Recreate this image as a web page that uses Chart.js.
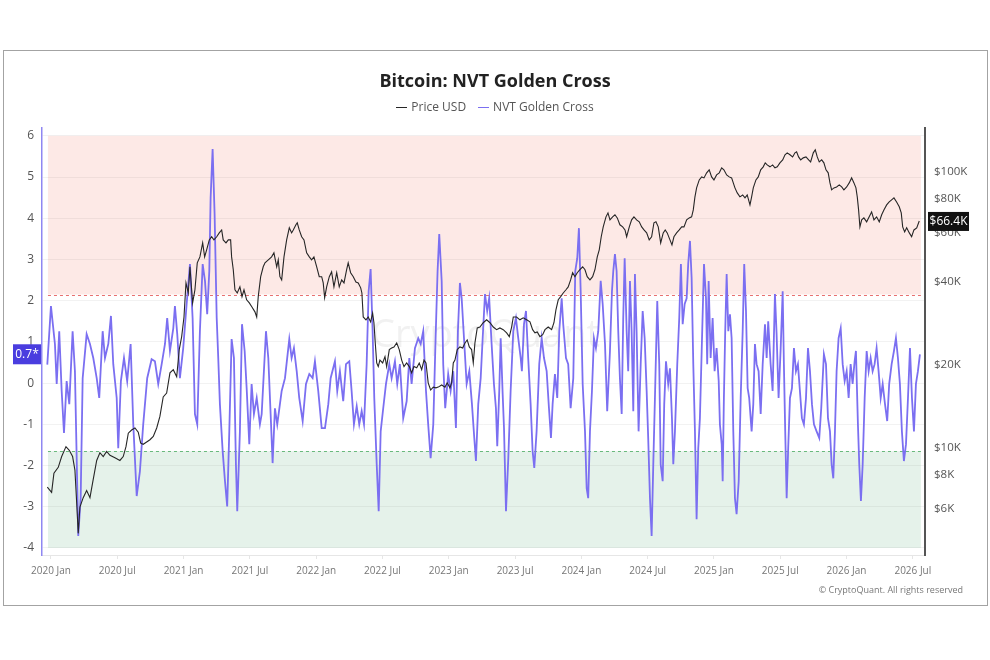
<!DOCTYPE html>
<html>
<head>
<meta charset="utf-8">
<title>Bitcoin: NVT Golden Cross</title>
<script src="https://cdn.jsdelivr.net/npm/chart.js@4.4.1/dist/chart.umd.min.js"></script>
<style>
	html, body { margin: 0; padding: 0; background: #fff; }
	#wrap { position: relative; width: 990px; height: 660px; font-family: 'Open Sans', sans-serif; }
	#frame { position: absolute; left: 3px; top: 50px; width: 983px; height: 554px; border: 1px solid #a3a3a3; }
	#nvtChart { position: absolute; left: 0; top: 0; }
	#title { position: absolute; left: 0; top: 69px; width: 990px; text-align: center; font-size: 18px; line-height: 22px; font-weight: 700; color: #222; }
	#legend { position: absolute; left: 0; top: 99px; width: 990px; text-align: center; font-size: 12px; line-height: 16px; color: #555; }
	#legend .item { display: inline-block; margin: 0 6px; }
	#legend .dash { display: inline-block; width: 11px; height: 0; border-top: 1.5px solid; vertical-align: middle; margin-right: 4px; }
	#credit { position: absolute; right: 27px; top: 583px; font-size: 9px; color: #777; }
</style>
</head>
<body>
<div id="wrap">
	<div id="frame"></div>
	<canvas id="nvtChart" width="990" height="660"></canvas>
	<div id="title">Bitcoin: NVT Golden Cross</div>
	<div id="legend"></div>
	<div id="credit">© CryptoQuant. All rights reserved</div>
</div>
<script>
// x positions are months counted from 2020 Jan
const tickMonths = [0, 6, 12, 18, 24, 30, 36, 42, 48, 54, 60, 66, 72, 78];
const tickLabels = ['2020 Jan', '2020 Jul', '2021 Jan', '2021 Jul', '2022 Jan', '2022 Jul', '2023 Jan', '2023 Jul', '2024 Jan', '2024 Jul', '2025 Jan', '2025 Jul', '2026 Jan', '2026 Jul'];
const nvtTicks = [-4, -3, -2, -1, 0, 1, 2, 3, 4, 5, 6];
const priceTicks = [6, 8, 10, 20, 40, 60, 80, 100]; // $K

// shaded bands on the NVT axis
const redZone = [2.15, 6];
const greenZone = [-4, -1.65];
const zoneMonths = [-0.27, 78.73];

const nvtMonths = [
	-0.33, 0, 0.36, 0.52, 0.75, 0.97, 1.18, 1.42, 1.66, 1.96,
	2.17, 2.47, 2.69, 2.87, 3.23, 3.53, 3.83, 4.14, 4.37, 4.68,
	4.89, 5.19, 5.43, 5.64, 5.95, 6.09, 6.33, 6.61, 6.9, 7.21,
	7.45, 7.76, 8.05, 8.35, 8.71, 9.11, 9.41, 9.71, 10.02, 10.32,
	10.52, 10.77, 11.07, 11.22, 11.43, 11.67, 11.97, 12.28, 12.58, 12.82,
	13.03, 13.24, 13.48, 13.73, 13.94, 14.14, 14.33, 14.45, 14.63, 14.81,
	15.0, 15.14, 15.29, 15.54, 15.75, 15.95, 16.14, 16.35, 16.56, 16.74,
	16.86, 17.1, 17.29, 17.53, 17.71, 17.95, 18.16, 18.37, 18.62, 18.91,
	19.07, 19.46, 19.67, 19.88, 20.06, 20.27, 20.48, 20.88, 21.18, 21.57,
	21.78, 21.99, 22.24, 22.47, 22.78, 23.08, 23.38, 23.68, 23.89, 24.19,
	24.5, 24.8, 25.1, 25.31, 25.7, 25.91, 26.15, 26.45, 26.7, 27.0,
	27.21, 27.42, 27.67, 27.9, 28.12, 28.33, 28.57, 28.75, 28.93, 29.11,
	29.26, 29.48, 29.66, 29.84, 30.07, 30.32, 30.62, 30.83, 31.13, 31.34,
	31.58, 31.88, 32.19, 32.43, 32.64, 32.94, 33.24, 33.46, 33.69, 33.94,
	34.14, 34.36, 34.6, 34.81, 34.99, 35.14, 35.36, 35.5, 35.68, 35.95,
	36.17, 36.41, 36.65, 36.83, 37.01, 37.17, 37.38, 37.62, 37.86, 38.1,
	38.31, 38.46, 38.67, 38.89, 39.07, 39.28, 39.48, 39.66, 39.88, 40.09,
	40.27, 40.39, 40.57, 40.7, 40.88, 41.0, 41.18, 41.39, 41.6, 41.84,
	42.08, 42.29, 42.51, 42.62, 42.81, 42.99, 43.19, 43.41, 43.59, 43.74,
	43.95, 44.19, 44.41, 44.62, 44.86, 45.07, 45.25, 45.4, 45.61, 45.82,
	46.0, 46.22, 46.36, 46.61, 46.81, 47.03, 47.27, 47.45, 47.63, 47.78,
	47.94, 48.12, 48.33, 48.48, 48.62, 48.78, 48.96, 49.14, 49.32, 49.53,
	49.75, 49.93, 50.14, 50.34, 50.59, 50.77, 50.89, 51.04, 51.19, 51.34,
	51.49, 51.65, 51.79, 51.92, 52.1, 52.24, 52.4, 52.55, 52.7, 52.85,
	53.0, 53.18, 53.37, 53.55, 53.73, 53.91, 54.05, 54.21, 54.36, 54.51,
	54.66, 54.87, 55.05, 55.18, 55.36, 55.5, 55.66, 55.86, 56.02, 56.2,
	56.32, 56.47, 56.68, 56.86, 57.01, 57.17, 57.35, 57.53, 57.67, 57.83,
	57.98, 58.13, 58.28, 58.43, 58.58, 58.73, 58.89, 59.1, 59.28, 59.39,
	59.52, 59.7, 59.88, 60.06, 60.24, 60.43, 60.54, 60.7, 60.79, 60.9,
	61.02, 61.15, 61.3, 61.45, 61.6, 61.75, 61.9, 62.05, 62.24, 62.42,
	62.6, 62.74, 62.9, 63.05, 63.19, 63.41, 63.56, 63.71, 63.86, 64.04,
	64.23, 64.41, 64.62, 64.77, 64.91, 65.13, 65.31, 65.52, 65.67, 65.85,
	66.04, 66.22, 66.33, 66.45, 66.58, 66.72, 66.88, 67.06, 67.24, 67.42,
	67.6, 67.78, 67.96, 68.14, 68.33, 68.51, 68.69, 68.87, 69.05, 69.29,
	69.53, 69.71, 69.95, 70.14, 70.32, 70.5, 70.65, 70.8, 70.95, 71.1,
	71.28, 71.47, 71.65, 71.83, 72.01, 72.19, 72.37, 72.55, 72.73, 72.85,
	73.03, 73.15, 73.3, 73.46, 73.64, 73.82, 74.0, 74.18, 74.36, 74.54,
	74.72, 74.9, 75.09, 75.27, 75.48, 75.68, 75.86, 76.08, 76.29, 76.47,
	76.65, 76.83, 77.01, 77.19, 77.38, 77.56, 77.74, 77.92, 78.1, 78.28,
	78.46, 78.64,
];
const nvtValues = [
	0.45, 1.87, 0.95, -0.02, 1.26, -0.19, -1.21, 0.05, -0.51, 1.26,
	0.29, -3.71, -2.79, 0.12, 1.19, 0.95, 0.61, 0.12, -0.36, 1.26,
	0.61, 0.95, 1.63, 0.46, -0.36, -1.58, 0.05, 0.61, 0.05, 0.95,
	-1.0, -2.74, -2.14, -1.0, 0.12, 0.58, 0.53, -0.02, 0.46, 0.95,
	1.58, 0.78, 1.33, 1.87, 1.19, 0.12, 0.85, 1.92, 2.89, 1.58,
	-0.75, -1.0, 1.26, 2.89, 2.48, 1.67, 2.72, 4.49, 5.68, 4.1,
	1.58, 0.61, -0.51, -1.65, -2.38, -2.99, -1.17, 1.07, 0.61, -1.97,
	-3.11, -1.17, 1.43, 0.78, -0.12, -1.48, -0.02, -0.75, -0.36, -1.0,
	-0.75, 1.26, 0.61, -0.75, -1.94, -0.61, -1.0, -0.19, 0.12, 1.07,
	0.61, 0.85, 0.29, -0.36, -0.92, -0.02, 0.22, 0.12, 0.53, -0.19,
	-1.09, -1.09, -0.51, 0.12, 0.53, -0.19, 0.29, -0.44, 0.46, 0.53,
	-0.19, -1.0, -0.56, -1.0, -0.68, -1.0, 0.46, 2.23, 2.77, 1.26,
	-0.36, -1.97, -3.11, -1.17, -0.61, -0.02, 0.46, 0.12, 0.53, -0.02,
	0.46, -0.85, -0.44, 0.61, -0.02, 0.85, 1.09, 0.95, 1.26, -0.19,
	-1.0, -1.82, -1.0, 1.09, 2.72, 3.62, 2.48, 0.46, -0.61, 0.22,
	-0.19, 0.29, -1.09, 1.26, 2.43, 2.06, 1.09, -0.02, 0.29, -0.51,
	-1.33, -1.89, -0.51, 0.12, 1.09, 2.16, 1.75, 2.06, 0.95, -0.02,
	-0.61, -1.53, -0.19, 1.09, -0.27, -1.09, -3.11, -1.82, -0.19, 1.26,
	1.58, 1.09, 0.61, 0.29, 1.43, 1.75, 0.61, -0.51, -1.65, -2.06,
	-1.17, 0.46, 1.09, 0.61, 0.29, -0.61, -1.33, -0.51, 0.22, -0.36,
	1.26, 2.06, 1.43, 0.61, 0.46, -0.61, 0.12, 2.72, 3.03, 3.76,
	2.23, -0.02, -1.17, -2.55, -2.79, -1.17, -0.19, 1.09, 0.85, 1.26,
	2.48, 1.92, 0.95, -0.68, 0.78, 2.23, 2.72, 3.13, 2.72, 1.26,
	0.12, -0.75, 1.58, 3.03, 1.26, 0.29, 2.48, 1.26, -0.68, 2.65,
	1.26, -1.17, 0.46, 1.75, 1.09, -0.19, -1.33, -2.79, -3.71, -1.97,
	-0.36, 1.99, 0.46, -1.97, -2.38, -0.51, 0.53, -0.02, 0.36, -0.85,
	-1.97, -1.17, 0.46, 1.58, 2.89, 1.43, 1.92, 2.06, 2.89, 3.45,
	2.55, 0.46, -1.17, -3.3, -1.58, -0.85, 0.78, 2.89, 2.06, 0.46,
	2.48, 0.61, 1.58, 0.29, 0.85, 0.05, -1.0, -1.48, -2.38, -0.36,
	1.26, 2.65, 1.26, 1.67, 1.09, -1.17, -2.79, -3.18, -2.38, -0.36,
	1.26, 2.89, 1.75, -0.12, -0.36, -1.17, -0.51, 0.95, 0.46, 0.29,
	-0.75, 0.46, 1.43, 0.61, 1.5, 0.46, -0.19, 2.16, 1.19, -0.36,
	0.85, 2.23, 0.46, -1.17, -2.79, -1.58, -0.36, -0.12, 0.85, 0.29,
	0.46, -0.19, -0.85, -1.0, -0.36, 0.85, 0.29, -0.51, -1.0, -1.17,
	-1.33, -0.61, 0.7, 0.46, -0.85, -1.17, -1.97, -2.31, -1.17, 0.29,
	1.09, 1.33, 0.46, 0.05, 0.29, -0.36, 0.46, -0.02, 0.53, 0.78,
	-1.0, -1.97, -2.86, -1.97, -0.36, 0.78, 0.29, 0.61, 0.29, 0.46,
	0.85, 0.29, -0.36, -0.02, -0.51, -0.92, -0.02, 0.46, 0.78, 1.09,
	0.61, -0.02, -1.17, -1.89, -1.48, -0.36, 0.85, -0.36, -1.17, -0.02,
	0.29, 0.7,
];

const priceMonths = [
	-0.33, 0.06, 0.27, 0.66, 0.97, 1.36, 1.66, 1.96, 2.17, 2.33,
	2.47, 2.62, 2.92, 3.23, 3.53, 3.83, 4.14, 4.43, 4.73, 5.04,
	5.34, 5.79, 6.24, 6.54, 6.79, 7.0, 7.3, 7.6, 7.9, 8.12,
	8.35, 8.66, 8.96, 9.26, 9.57, 9.86, 10.16, 10.47, 10.77, 11.07,
	11.38, 11.61, 11.83, 12.04, 12.22, 12.43, 12.58, 12.82, 13.03, 13.24,
	13.48, 13.73, 13.91, 14.09, 14.33, 14.54, 14.75, 15.0, 15.23, 15.45,
	15.59, 15.84, 16.05, 16.26, 16.35, 16.5, 16.65, 16.86, 17.1, 17.29,
	17.47, 17.71, 17.95, 18.19, 18.46, 18.62, 18.76, 18.98, 19.21, 19.37,
	19.67, 19.97, 20.18, 20.43, 20.57, 20.72, 20.88, 21.09, 21.33, 21.57,
	21.78, 21.93, 22.17, 22.29, 22.47, 22.69, 22.9, 23.14, 23.38, 23.59,
	23.8, 24.05, 24.28, 24.5, 24.64, 24.77, 24.95, 25.19, 25.4, 25.61,
	25.86, 26.09, 26.31, 26.52, 26.76, 26.9, 27.12, 27.36, 27.6, 27.81,
	28.03, 28.14, 28.26, 28.51, 28.71, 28.93, 29.11, 29.23, 29.35, 29.48,
	29.62, 29.77, 30.02, 30.23, 30.38, 30.62, 30.83, 31.04, 31.29, 31.52,
	31.74, 31.95, 32.19, 32.43, 32.64, 32.85, 33.1, 33.33, 33.55, 33.76,
	33.94, 34.14, 34.36, 34.6, 34.84, 35.05, 35.36, 35.66, 35.86, 36.11,
	36.26, 36.41, 36.56, 36.77, 37.01, 37.26, 37.47, 37.67, 37.86, 38.07,
	38.22, 38.37, 38.58, 38.82, 39.12, 39.43, 39.73, 40.03, 40.33, 40.63,
	40.93, 41.24, 41.48, 41.69, 41.84, 42.14, 42.44, 42.74, 43.05, 43.35,
	43.59, 43.8, 44.01, 44.25, 44.5, 44.71, 45.0, 45.31, 45.52, 45.7,
	45.91, 46.13, 46.36, 46.61, 46.81, 47.03, 47.21, 47.42, 47.63, 47.87,
	48.12, 48.33, 48.53, 48.78, 49.02, 49.23, 49.44, 49.62, 49.8, 49.98,
	50.23, 50.41, 50.59, 50.83, 51.04, 51.25, 51.49, 51.74, 51.95, 52.1,
	52.34, 52.55, 52.76, 53.0, 53.24, 53.46, 53.67, 53.91, 54.14, 54.36,
	54.57, 54.75, 54.96, 55.18, 55.41, 55.59, 55.77, 56.02, 56.2, 56.38,
	56.62, 56.86, 57.08, 57.29, 57.53, 57.76, 57.98, 58.13, 58.28, 58.43,
	58.67, 58.89, 59.1, 59.34, 59.57, 59.79, 60.0, 60.24, 60.48, 60.7,
	60.9, 61.15, 61.38, 61.6, 61.75, 61.9, 62.11, 62.35, 62.6, 62.81,
	63.01, 63.26, 63.41, 63.56, 63.8, 64.01, 64.23, 64.46, 64.64, 64.82,
	65.07, 65.31, 65.52, 65.73, 65.97, 66.22, 66.43, 66.63, 66.88, 67.12,
	67.33, 67.48, 67.66, 67.85, 68.08, 68.33, 68.57, 68.75, 68.99, 69.17,
	69.35, 69.53, 69.75, 69.95, 70.14, 70.34, 70.5, 70.65, 70.86, 71.1,
	71.34, 71.56, 71.76, 72.01, 72.24, 72.46, 72.67, 72.85, 72.97, 73.09,
	73.21, 73.37, 73.57, 73.82, 74.05, 74.27, 74.48, 74.72, 74.96, 75.18,
	75.38, 75.63, 75.86, 76.08, 76.29, 76.53, 76.77, 76.95, 77.08, 77.26,
	77.44, 77.68, 77.89, 78.1, 78.35, 78.58,
];
// Price USD, in thousands
const priceK = [
	7.2, 6.9, 8.1, 8.5, 9.3, 10.1, 9.8, 9.3, 8.3, 6.3,
	4.9, 6.1, 6.6, 7.0, 6.6, 7.7, 9.0, 9.6, 9.3, 9.7,
	9.4, 9.2, 9.0, 9.3, 10.1, 11.3, 11.6, 11.8, 11.4, 10.4,
	10.3, 10.5, 10.7, 11.0, 11.8, 13.0, 15.3, 15.8, 18.7, 19.2,
	18.1, 22.7, 25.3, 29.8, 39.6, 36.4, 45.3, 33.5, 37.4, 46.8,
	49.2, 55.3, 49.2, 52.2, 56.7, 58.2, 56.7, 58.2, 60.1, 61.6,
	56.7, 55.3, 56.7, 56.7, 49.2, 44.2, 37.4, 36.4, 38.3, 35.3,
	37.4, 34.4, 33.5, 32.4, 31.1, 29.8, 35.3, 41.7, 45.3, 46.8,
	48.0, 49.2, 50.9, 45.3, 48.0, 41.7, 40.6, 49.2, 56.7, 62.7,
	60.1, 61.6, 64.3, 65.4, 61.6, 58.2, 56.7, 50.9, 49.2, 48.0,
	49.2, 45.3, 41.7, 41.7, 39.6, 35.0, 38.3, 41.7, 43.4, 38.3,
	43.1, 38.3, 40.6, 39.6, 44.2, 46.8, 43.1, 41.7, 39.9, 39.6,
	38.0, 36.4, 29.8, 29.1, 29.8, 28.6, 30.8, 28.4, 24.0, 20.3,
	19.7, 20.8, 20.3, 21.4, 19.7, 22.7, 23.0, 23.2, 24.0, 22.7,
	20.8, 19.7, 20.3, 19.7, 18.7, 19.7, 19.5, 20.3, 19.2, 20.8,
	20.3, 17.2, 16.2, 16.6, 16.5, 16.6, 16.9, 16.6, 17.2, 16.5,
	17.2, 20.3, 20.8, 22.7, 23.2, 23.0, 24.0, 24.6, 23.2, 22.7,
	20.3, 24.0, 27.2, 27.4, 28.4, 29.1, 28.4, 27.4, 26.8, 27.2,
	26.8, 26.1, 25.3, 27.4, 29.8, 29.8, 29.1, 29.6, 29.1, 28.6,
	26.8, 26.1, 26.3, 25.3, 25.7, 26.8, 27.4, 26.8, 28.4, 31.6,
	34.4, 35.3, 36.4, 37.4, 38.3, 40.6, 43.1, 41.7, 43.1, 44.2,
	45.3, 44.2, 41.7, 40.6, 41.7, 44.2, 49.2, 52.2, 58.2, 63.2,
	68.7, 71.0, 67.0, 68.7, 69.9, 68.1, 64.3, 63.2, 61.6, 58.2,
	63.2, 67.0, 68.7, 67.0, 65.9, 63.2, 61.6, 60.1, 56.7, 58.2,
	65.4, 65.9, 63.2, 55.3, 60.1, 61.6, 60.1, 56.7, 54.4, 58.2,
	60.1, 61.6, 63.2, 63.2, 67.0, 68.1, 68.7, 72.8, 81.2, 87.5,
	93.5, 95.9, 95.1, 99.2, 101.7, 95.9, 93.5, 97.5, 99.2, 103.4,
	101.7, 97.5, 95.9, 95.1, 91.2, 87.5, 83.9, 81.2, 82.5, 80.5,
	82.5, 75.9, 81.2, 87.5, 93.5, 95.9, 101.7, 104.3, 107.8, 106.0,
	104.3, 106.0, 103.4, 104.3, 107.8, 110.5, 115.3, 117.2, 115.3, 113.3,
	117.2, 118.2, 113.3, 110.5, 112.4, 113.3, 110.5, 108.7, 117.2, 120.2,
	113.3, 108.7, 110.5, 107.8, 101.7, 99.2, 91.2, 86.1, 87.5, 88.2,
	89.7, 88.2, 86.1, 88.2, 91.2, 95.1, 91.2, 87.5, 81.2, 72.8,
	63.2, 67.0, 68.1, 65.9, 68.7, 71.6, 67.0, 68.7, 65.9, 69.9,
	72.8, 75.9, 77.8, 79.2, 80.5, 77.8, 74.7, 71.0, 63.2, 60.6,
	62.7, 60.1, 58.2, 61.6, 62.7, 66.4,
];

const priceColor = '#262626';
const nvtColor = '#7b6ff1';

Chart.defaults.font.family = "'Open Sans', sans-serif";

// bands, threshold lines and watermark under the grid and the lines
const zonesPlugin = {
	id: 'zones',
	beforeDraw(chart) {
		const {ctx, chartArea, scales: {x, y}} = chart;
		const left = x.getPixelForValue(zoneMonths[0]);
		const right = x.getPixelForValue(zoneMonths[1]);
		const redTop = y.getPixelForValue(redZone[1]);
		const redBottom = y.getPixelForValue(redZone[0]);
		const greenTop = y.getPixelForValue(greenZone[1]);
		const greenBottom = y.getPixelForValue(greenZone[0]);
		ctx.save();
		ctx.fillStyle = 'rgba(251, 218, 213, 0.6)';
		ctx.fillRect(left, redTop, right - left, redBottom - redTop);
		ctx.fillStyle = 'rgba(208, 232, 216, 0.55)';
		ctx.fillRect(left, greenTop, right - left, greenBottom - greenTop);

		ctx.lineWidth = 1;
		ctx.setLineDash([3, 3]);
		ctx.strokeStyle = 'rgba(228, 96, 96, 0.9)';
		ctx.beginPath();
		ctx.moveTo(left, Math.round(redBottom) + 0.5);
		ctx.lineTo(right, Math.round(redBottom) + 0.5);
		ctx.stroke();
		ctx.strokeStyle = 'rgba(92, 178, 112, 0.9)';
		ctx.beginPath();
		ctx.moveTo(left, Math.round(greenTop) + 0.5);
		ctx.lineTo(right, Math.round(greenTop) + 0.5);
		ctx.stroke();
		ctx.setLineDash([]);

		// watermark
		ctx.font = "38px 'Open Sans', sans-serif";
		ctx.fillStyle = 'rgba(150, 150, 150, 0.13)';
		ctx.textAlign = 'center';
		ctx.textBaseline = 'middle';
		ctx.fillText('CryptoQuant', (chartArea.left + chartArea.right) / 2 + 2, 336);
		ctx.restore();
	},
};

// last-value badges on both axes
const badgePlugin = {
	id: 'badges',
	afterDraw(chart) {
		const {ctx, chartArea, scales: {y, y1}} = chart;
		const lastNvt = nvtValues[nvtValues.length - 1];
		const lastPrice = priceK[priceK.length - 1];
		ctx.save();
		ctx.font = "12px 'Open Sans', sans-serif";
		ctx.textBaseline = 'middle';
		ctx.textAlign = 'center';

		let py = y.getPixelForValue(lastNvt);
		ctx.fillStyle = '#4a3ddf';
		ctx.fillRect(chartArea.left - 29, py - 10, 28, 20);
		ctx.fillStyle = '#fff';
		ctx.fillText(lastNvt.toFixed(1) + '*', chartArea.left - 15, py + 0.5);

		py = y1.getPixelForValue(lastPrice);
		ctx.fillStyle = '#111';
		ctx.fillRect(chartArea.right + 3, py - 9, 41, 19);
		ctx.fillStyle = '#fff';
		ctx.fillText('$' + lastPrice.toFixed(1) + 'K', chartArea.right + 23.5, py + 0.5);
		ctx.restore();
	},
};

const ctx = document.getElementById('nvtChart').getContext('2d');
const nvtChart = new Chart(ctx, {
	type: 'line',
	data: {
		datasets: [
			{
				label: 'Price USD',
				data: priceMonths.map((m, i) => ({x: m, y: priceK[i]})),
				yAxisID: 'y1',
				borderColor: priceColor,
				borderWidth: 1.1,
				pointRadius: 0,
				tension: 0,
			},
			{
				label: 'NVT Golden Cross',
				data: nvtMonths.map((m, i) => ({x: m, y: nvtValues[i]})),
				yAxisID: 'y',
				borderColor: nvtColor,
				borderWidth: 1.8,
				pointRadius: 0,
				tension: 0,
			},
		],
	},
	options: {
		responsive: false,
		animation: false,
		devicePixelRatio: 1,
		layout: {
			padding: {top: 128, left: 0, right: 0, bottom: 65},
		},
		plugins: {
			legend: {display: false},
			title: {display: false},
			tooltip: {enabled: false},
		},
		scales: {
			x: {
				type: 'linear',
				min: -0.81,
				max: 79.1,
				afterBuildTicks: (axis) => {
					axis.ticks = tickMonths.map((v) => ({value: v}));
				},
				afterFit: (axis) => {
					axis.height = 40;
				},
				ticks: {
					autoSkip: false,
					maxRotation: 0,
					padding: 6,
					color: '#777',
					font: {size: 10},
					callback: (v) => tickLabels[tickMonths.indexOf(v)],
				},
				grid: {
					drawOnChartArea: false,
					drawTicks: true,
					tickLength: 4,
					color: '#e6e6e6',
				},
				border: {color: '#e6e6e6', width: 1},
			},
			y: {
				type: 'linear',
				position: 'left',
				min: -4.17,
				max: 6.19,
				afterBuildTicks: (axis) => {
					axis.ticks = nvtTicks.map((v) => ({value: v}));
				},
				afterFit: (axis) => {
					axis.width = 42;
				},
				ticks: {
					padding: 8,
					color: '#555',
					font: {size: 12},
				},
				grid: {
					color: 'rgba(0, 0, 0, 0.05)',
					drawTicks: false,
				},
				border: {color: '#8f87f2', width: 1.5},
			},
			y1: {
				type: 'logarithmic',
				position: 'right',
				min: 4.09,
				max: 144.2,
				afterBuildTicks: (axis) => {
					axis.ticks = priceTicks.map((v) => ({value: v}));
				},
				afterFit: (axis) => {
					axis.width = 65;
				},
				ticks: {
					padding: 9,
					color: '#555',
					font: {size: 11.5},
					callback: (v) => '$' + v + 'K',
				},
				grid: {display: false, drawTicks: false},
				border: {color: '#555', width: 2},
			},
		},
	},
	plugins: [zonesPlugin, badgePlugin],
});

// legend built from the chart's own datasets
document.getElementById('legend').innerHTML = nvtChart.data.datasets.map((ds) =>
	`<span class="item"><span class="dash" style="border-color:${ds.borderColor}"></span>${ds.label}</span>`,
).join('');
</script>
</body>
</html>
